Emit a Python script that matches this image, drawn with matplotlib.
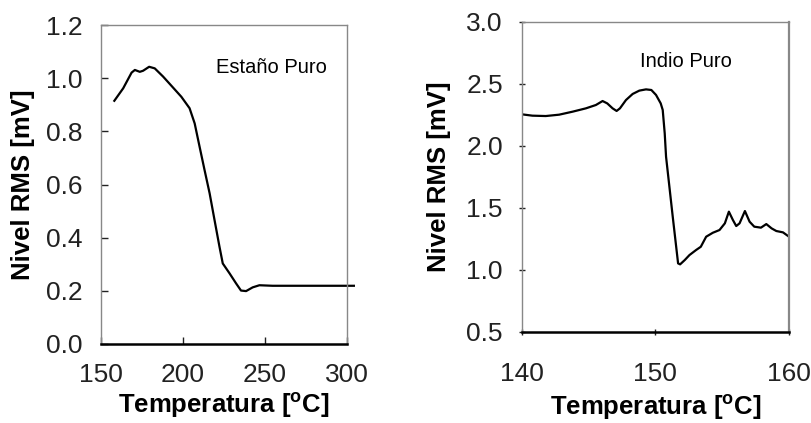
import matplotlib.pyplot as plt

plt.rcParams['font.family'] = ['Liberation Sans', 'DejaVu Sans']

# Estaño puro
sn_temp = [158.4, 163.8, 168.9, 170.9, 173.9, 175.9, 179.6, 183.0, 188.1, 194.1,
           199.2, 204.2, 207.3, 210.3, 213.3, 216.4, 219.4, 222.4, 224.4, 228.5,
           232.5, 235.5, 238.6, 242.6, 246.7, 254.7, 304.2]
sn_rms = [0.915, 0.962, 1.021, 1.031, 1.024, 1.028, 1.043, 1.037, 1.006, 0.965,
          0.930, 0.887, 0.830, 0.742, 0.655, 0.567, 0.466, 0.366, 0.303, 0.266,
          0.228, 0.201, 0.199, 0.213, 0.221, 0.219, 0.219]

# Indio puro
in_temp = [140.0, 140.8, 141.8, 142.8, 143.8, 144.8, 145.55, 146.05, 146.4, 146.8,
           147.1, 147.35, 147.8, 148.3, 148.8, 149.3, 149.7, 150.05, 150.4, 150.55,
           150.7, 150.8, 151.05, 151.3, 151.7, 151.85, 152.2, 152.55, 153.05, 153.4,
           153.8, 154.3, 154.8, 155.2, 155.5, 155.8, 156.05, 156.3, 156.7, 157.05,
           157.4, 157.9, 158.3, 158.7, 159.05, 159.55, 160.0]
in_rms = [2.253, 2.242, 2.239, 2.250, 2.274, 2.301, 2.328, 2.360, 2.341, 2.301,
          2.280, 2.301, 2.368, 2.417, 2.444, 2.454, 2.449, 2.409, 2.341, 2.288,
          2.099, 1.911, 1.669, 1.427, 1.051, 1.043, 1.078, 1.118, 1.159, 1.185,
          1.266, 1.298, 1.320, 1.374, 1.468, 1.401, 1.352, 1.374, 1.473, 1.387,
          1.347, 1.339, 1.368, 1.333, 1.312, 1.301, 1.266]

sn_xticks = [150, 200, 250, 300]
sn_yticks = [0.0, 0.2, 0.4, 0.6, 0.8, 1.0, 1.2]
in_xticks = [140, 150, 160]
in_yticks = [0.5, 1.0, 1.5, 2.0, 2.5, 3.0]

xlabel = r'Temperatura [$^{\mathregular{o}}$C]'
ylabel = 'Nivel RMS [mV]'

fig = plt.figure(figsize=(8.12, 4.23), dpi=100)
ax1 = fig.add_axes([0.1238, 0.1868, 0.3035, 0.754])
ax2 = fig.add_axes([0.6425, 0.2158, 0.3292, 0.733])

def style(ax, tickdir, xpad, ypad, xlpad, ylpad):
    for s in ['top', 'right', 'left']:
        ax.spines[s].set_color('#888888')
        ax.spines[s].set_linewidth(1.0)
    ax.spines['bottom'].set_color('black')
    ax.spines['bottom'].set_linewidth(1.8)
    ax.tick_params(direction=tickdir, labelsize=19, colors='#222222',
                   length=5, width=1)
    ax.tick_params(axis='x', pad=xpad)
    ax.tick_params(axis='y', pad=ypad)
    ax.set_xlabel(xlabel, fontsize=18.5, fontweight='bold', labelpad=xlpad)
    ax.set_ylabel(ylabel, fontsize=18.5, fontweight='bold', labelpad=ylpad)

ax1.plot(sn_temp, sn_rms, color='black', lw=1.6, clip_on=False)
ax1.set_xlim(150, 300)
ax1.set_ylim(0.0, 1.2)
ax1.set_xticks(sn_xticks)
ax1.set_yticks(sn_yticks)
ax1.set_yticklabels([f'{v:.1f}' for v in sn_yticks])
style(ax1, 'in', 14, 13, 2, 8)
ax1.text(254, 1.04, 'Estaño Puro', fontsize=14.5, ha='center', va='center')

ax2.plot(in_temp, in_rms, color='black', lw=1.6)
ax2.set_xlim(140, 160)
ax2.set_ylim(0.5, 3.0)
ax2.set_xticks(in_xticks)
ax2.set_yticks(in_yticks)
ax2.set_yticklabels([f'{v:.1f}' for v in in_yticks])
style(ax2, 'inout', 19, 11, 5, 11)
ax2.spines['right'].set_linewidth(1.6)
ax2.text(152.3, 2.68, 'Indio Puro', fontsize=14.5, ha='center', va='center')

fig.savefig('out.png', dpi=100)
